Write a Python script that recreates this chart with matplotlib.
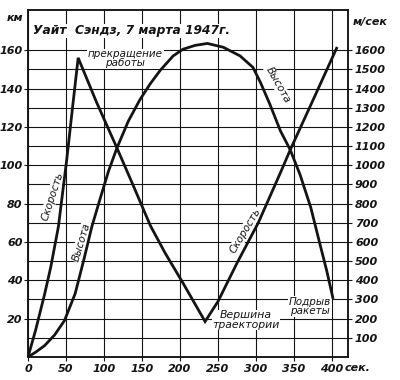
import numpy as np
import matplotlib.pyplot as plt
from matplotlib.ticker import FixedLocator
import matplotlib.transforms as mtransforms

# Данные
t_vys = [0, 10, 22, 35, 48, 62, 73, 84, 96, 106, 117, 132, 147, 160, 174, 191,
         204, 220, 236, 257, 279, 296, 306, 318, 332, 345, 358, 372, 384, 393, 401]
vysota = [0, 2.5, 6, 11.5, 19, 33, 50, 68, 84, 97, 109, 123, 134, 142, 149.5, 157,
          160.5, 162.5, 163.5, 161.5, 157, 151, 143, 132, 118, 108, 95, 78, 59, 45, 31]

t_skor = [0, 10, 22, 30, 40, 51, 58, 66, 90, 117, 140, 161, 180, 204, 233,
          250, 275, 303, 332, 345, 375, 406]
skorost = [0, 140, 330, 470, 680, 1030, 1280, 1560, 1330, 1090, 880, 685, 545, 385, 185,
           290, 490, 700, 960, 1080, 1340, 1610]

x_ticks = [0, 50, 100, 150, 200, 250, 300, 350, 400]
km_ticks = [20, 40, 60, 80, 100, 120, 140, 160]
km_minor = [10, 30, 50, 70, 90, 110, 130, 150]
ms_ticks = list(range(100, 1700, 100))

ink = '#141414'
fnt = dict(family='DejaVu Sans', style='italic', color=ink)
bg = dict(facecolor='white', edgecolor='none', pad=0.5)

fig = plt.figure(figsize=(4, 3.8), dpi=100)
ax = fig.add_axes([0.07, 0.0605, 0.80, 0.9135])
ax.set_xlim(0, 421)
ax.set_ylim(0, 181)

# сетка
ax.xaxis.set_major_locator(FixedLocator(x_ticks))
ax.yaxis.set_major_locator(FixedLocator(km_ticks))
ax.yaxis.set_minor_locator(FixedLocator(km_minor))
ax.grid(True, which='both', color=ink, lw=0.8, zorder=0.5)
ax.set_axisbelow(True)

# кривые (скорость в масштабе км*10)
ax.plot(t_vys, vysota, color=ink, lw=2.0, solid_joinstyle='miter', zorder=3)
ax.plot(t_skor, np.array(skorost) / 10, color=ink, lw=2.0, solid_joinstyle='miter', zorder=3)

for s in ax.spines.values():
    s.set_linewidth(1.1)
    s.set_color(ink)

ax.tick_params(axis='both', which='both', length=3, width=0.8, color=ink)
ax.tick_params(axis='y', which='minor', length=0)
ax.set_xticklabels([str(v) for v in x_ticks], fontsize=8, weight='bold', **fnt)
ax.set_yticklabels([str(v) for v in km_ticks], fontsize=8, weight='bold', **fnt)
ax.tick_params(axis='y', pad=1)
ax.tick_params(axis='x', pad=2)

ax2 = ax.twinx()
ax2.set_ylim(0, 1810)
ax2.yaxis.set_major_locator(FixedLocator(ms_ticks))
ax2.set_yticklabels([str(v) for v in ms_ticks], fontsize=8, weight='bold', **fnt)
ax2.tick_params(axis='y', length=3, width=0.8, color=ink, pad=2)
for s in ax2.spines.values():
    s.set_linewidth(1.1)
    s.set_color(ink)

# подписи (белый фон под текстом, но под кривыми)
ax.text(6.5, 170, 'Уайт  Сэндз, 7 марта 1947г.', fontsize=8.8, weight='bold',
        ha='left', va='center', bbox=bg, zorder=5, **fnt)
ax.text(128, 155.5, 'прекращение\nработы', fontsize=7.5, ha='center', va='center',
        linespacing=0.85, bbox=bg, zorder=2, **fnt)
ax.text(32, 84, 'Скорость', fontsize=7.5, rotation=72, ha='center', va='center',
        bbox=bg, zorder=2, **fnt)
ax.text(70, 60, 'Высота', fontsize=7.5, rotation=73, ha='center', va='center',
        bbox=bg, zorder=2, **fnt)
ax.text(329, 142, 'Высота', fontsize=7.5, rotation=-61, ha='center', va='center',
        bbox=bg, zorder=2, **fnt)
ax.text(286, 66, 'Скорость', fontsize=7.5, rotation=59, ha='center', va='center',
        bbox=bg, zorder=2, **fnt)
ax.text(287, 19.3, 'Вершина\nтраектории', fontsize=7.8, ha='center', va='center',
        linespacing=0.9, bbox=bg, zorder=2, **fnt)
ax.text(371, 26.2, 'Подрыв\nракеты', fontsize=7.5, ha='center', va='center',
        linespacing=0.9, bbox=bg, zorder=2, **fnt)

trans = mtransforms.blended_transform_factory(ax.transData, ax.transAxes)
ax.text(417, -0.018, 'сек.', fontsize=8, weight='bold', ha='left', va='top',
        transform=trans, **fnt)
fig.text(15 / 400, 1 - 18 / 380, 'км', fontsize=8, weight='bold', ha='center',
         va='center', **fnt)
fig.text(370 / 400, 1 - 22 / 380, 'м/сек', fontsize=8, weight='bold', ha='center',
         va='center', **fnt)

fig.savefig('out.png', dpi=100, facecolor='white')
